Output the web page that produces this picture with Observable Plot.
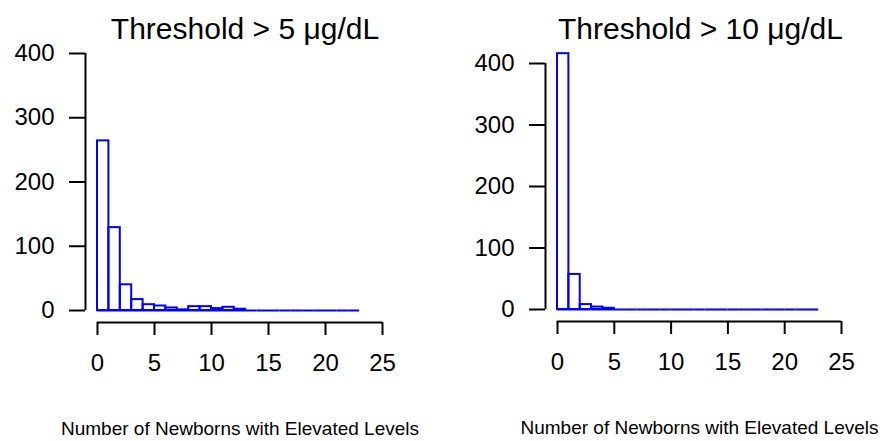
<!DOCTYPE html>
<html>
<head>
<meta charset="utf-8">
<script src="https://cdn.jsdelivr.net/npm/d3@7"></script>
<script src="https://cdn.jsdelivr.net/npm/@observablehq/plot@0.6"></script>
<style>
  html, body { margin: 0; padding: 0; background: #fff; color: #000; }
  #row { display: flex; width: 882px; height: 441px; }
  svg { font-family: "Liberation Sans", Arial, sans-serif; }
</style>
</head>
<body>
<div id="row"></div>
<script>
// Bin edges (width 1, from 0 to 23)
const binStarts = d3.range(0, 23);
// Counts
const counts5  = [264, 129, 40, 17, 9, 7, 4, 1, 6, 6, 3, 5, 2, 0, 0, 0, 0, 0, 0, 0, 0, 0, 0];
const counts10 = [416, 57, 8, 4, 2, 0, 0, 0, 0, 0, 0, 0, 0, 0, 0, 0, 0, 0, 0, 0, 0, 0, 0];
const titles = ["Threshold > 5 \u03BCg/dL", "Threshold > 10 \u03BCg/dL"];
const xLabel = "Number of Newborns with Elevated Levels";
const xTicks = [0, 5, 10, 15, 20, 25];
const yTicks = [0, 100, 200, 300, 400];

function panel(counts, title, m) {
  const data = binStarts.map((s, i) => ({x1: s, x2: s + 1, n: counts[i]}));
  return Plot.plot({
    width: 441,
    height: 441,
    marginLeft: m.left,
    marginRight: m.right,
    marginTop: m.top,
    marginBottom: m.bottom,
    style: {fontFamily: "Liberation Sans, Arial, sans-serif", color: "#000", background: "#fff"},
    x: {domain: [0, 25]},
    y: {domain: [0, 400]},
    marks: [
      Plot.rectY(data.filter(d => d.n > 0), {x1: "x1", x2: "x2", y1: 0, y2: "n", fill: "none", stroke: "#0000ff", strokeWidth: 2}),
      Plot.ruleY(data, {x1: "x1", x2: "x2", y: 0, stroke: "#0000ff", strokeWidth: 2}),
      // y axis
      Plot.ruleX([0], {y1: 0, y2: 400, dx: -12, stroke: "#000", strokeWidth: 2}),
      Plot.axisY({anchor: "left", ticks: yTicks, tickFormat: d => String(d), tickSize: 16, tickPadding: 15, dx: -12,
                  fontSize: 24, strokeWidth: 2, label: null}),
      // x axis
      Plot.ruleY([0], {x1: 0, x2: 25, dy: 12, stroke: "#000", strokeWidth: 2}),
      Plot.axisX({anchor: "bottom", ticks: xTicks, tickFormat: d => String(d), tickSize: 13, tickPadding: 18, dy: 12,
                  fontSize: 24, strokeWidth: 2, label: null}),
      // title
      Plot.text([title], {frameAnchor: "top", text: d => d, dy: m.titleDy, dx: m.titleDx, fontSize: 30, fill: "#000"}),
      // x label
      Plot.text([xLabel], {frameAnchor: "bottom", text: d => d, dy: 124, fontSize: 19, fill: "#000"})
    ]
  });
}

const row = document.getElementById("row");
row.appendChild(panel(counts5, titles[0], {left: 97, right: 59, top: 53, bottom: 131, titleDy: -36, titleDx: 5}));
row.appendChild(panel(counts10, titles[1], {left: 116, right: 41, top: 63, bottom: 132, titleDy: -46, titleDx: 1}));
</script>
</body>
</html>
